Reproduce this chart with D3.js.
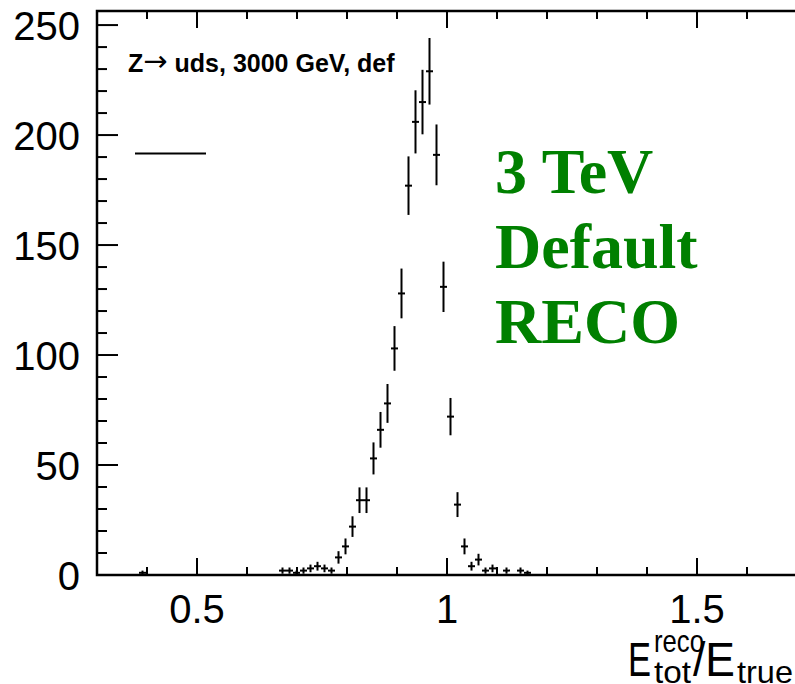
<!DOCTYPE html>
<html>
<head>
<meta charset="utf-8">
<script src="https://cdn.jsdelivr.net/npm/d3@7"></script>
<style>
  html, body { margin: 0; padding: 0; background: #fff; }
  svg { display: block; }
</style>
</head>
<body>
<svg id="chart" width="795" height="684"></svg>
<script>
// Histogram of E_tot^reco / E_true (100 bins, 0.3 – 1.7); only filled bins listed
const binCenters = [0.391, 0.671, 0.685, 0.699, 0.713, 0.727, 0.741, 0.755, 0.769,
  0.783, 0.797, 0.811, 0.825, 0.839, 0.853, 0.867, 0.881, 0.895, 0.909, 0.923,
  0.937, 0.951, 0.965, 0.979, 0.993, 1.007, 1.021, 1.035, 1.049, 1.063, 1.077,
  1.091, 1.119, 1.147, 1.161];
const counts = [1, 2, 2, 1, 2, 3, 4, 3, 2,
  8, 13, 22, 34, 34, 53, 66, 78, 103, 128, 177,
  206, 215, 229, 191, 131, 72, 32, 13, 4, 7, 2,
  3, 2, 2, 1];
const binHalfWidth = 0.007;

const xMajorTicks = [0.5, 1, 1.5];
const xMinorTicks = [0.3, 0.4, 0.6, 0.7, 0.8, 0.9, 1.1, 1.2, 1.3, 1.4, 1.6, 1.7];
const yMajorTicks = [0, 50, 100, 150, 200, 250];
const yMinorTicks = [10, 20, 30, 40, 60, 70, 80, 90, 110, 120, 130, 140,
  160, 170, 180, 190, 210, 220, 230, 240];

const xDomain = [0.3, 1.7];
const yDomain = [0, 256.4];

const frame = { left: 97, right: 797, top: 11, bottom: 575 };

const svg = d3.select("#chart");
const x = d3.scaleLinear().domain(xDomain).range([frame.left, frame.right]);
const y = d3.scaleLinear().domain(yDomain).range([frame.bottom, frame.top]);

const sans = "'Liberation Sans', Arial, Helvetica, sans-serif";

// Data points with Poisson error bars
const pts = svg.append("g").attr("stroke", "#000").attr("stroke-width", 2);
binCenters.forEach((c, i) => {
  const n = counts[i];
  const e = Math.sqrt(n);
  pts.append("line")
    .attr("x1", x(c)).attr("x2", x(c))
    .attr("y1", y(Math.max(0, n - e))).attr("y2", y(n + e));
  pts.append("line")
    .attr("x1", x(c - binHalfWidth)).attr("x2", x(c + binHalfWidth))
    .attr("y1", y(n)).attr("y2", y(n));
});

// Frame
const axes = svg.append("g").attr("stroke", "#000").attr("fill", "none");
axes.append("rect")
  .attr("x", frame.left).attr("y", frame.top)
  .attr("width", frame.right - frame.left).attr("height", frame.bottom - frame.top)
  .attr("stroke-width", 2.5);

// X ticks, bottom and top
const xTick = (v, len) => {
  axes.append("line").attr("x1", x(v)).attr("x2", x(v))
    .attr("y1", frame.bottom).attr("y2", frame.bottom - len).attr("stroke-width", 2);
  axes.append("line").attr("x1", x(v)).attr("x2", x(v))
    .attr("y1", frame.top).attr("y2", frame.top + len).attr("stroke-width", 2);
};
xMajorTicks.forEach(v => xTick(v, 17));
xMinorTicks.forEach(v => xTick(v, 8));

// Y ticks
const yTick = (v, len) => {
  axes.append("line").attr("x1", frame.left).attr("x2", frame.left + len)
    .attr("y1", y(v)).attr("y2", y(v)).attr("stroke-width", 2);
};
yMajorTicks.forEach(v => yTick(v, 21));
yMinorTicks.forEach(v => yTick(v, 10));

// Tick labels
svg.append("g").selectAll("text").data(xMajorTicks).join("text")
  .attr("x", d => x(d)).attr("y", 623)
  .attr("text-anchor", "middle")
  .attr("font-family", sans).attr("font-size", 40)
  .text(d => d3.format("")(d));

svg.append("g").selectAll("text").data(yMajorTicks).join("text")
  .attr("x", 80).attr("y", d => y(d) + 14.5)
  .attr("text-anchor", "end")
  .attr("font-family", sans).attr("font-size", 40)
  .text(d => d);

// Axis title: E_tot^reco / E_true, narrow glyphs
const titleParts = [
  { t: "E",    x: 628, y: 676, size: 48, w: 23 },
  { t: "reco", x: 654, y: 652, size: 32, w: 50 },
  { t: "tot",  x: 654, y: 683, size: 32, w: 37 },
  { t: "/E",   x: 693, y: 676, size: 48, w: 42 },
  { t: "true", x: 737, y: 683, size: 32, w: 56 }
];
svg.append("g").selectAll("text").data(titleParts).join("text")
  .attr("x", d => d.x).attr("y", d => d.y)
  .attr("font-family", sans).attr("font-size", d => d.size)
  .attr("textLength", d => d.w).attr("lengthAdjust", "spacingAndGlyphs")
  .text(d => d.t);

// Sample label
const lab = svg.append("text")
  .attr("font-family", sans).attr("font-size", 25).attr("font-weight", "bold")
  .attr("x", 128).attr("y", 72);
lab.append("tspan").text("Z");
lab.append("tspan").attr("font-weight", "normal")
  .attr("font-family", "'DejaVu Sans', sans-serif").attr("font-size", 29)
  .attr("dy", -1).text("\u2192");
lab.append("tspan").attr("dy", 1).text(" uds, 3000 GeV, def");

// Legend line
svg.append("line")
  .attr("x1", 135).attr("x2", 206).attr("y1", 153.5).attr("y2", 153.5)
  .attr("stroke", "#000").attr("stroke-width", 2);

// Green annotation
const serif = "'Liberation Serif', 'Times New Roman', Times, serif";
["3 TeV", "Default", "RECO"].forEach((t, i) => {
  svg.append("text")
    .attr("x", 495).attr("y", 193 + i * 75)
    .attr("font-family", serif).attr("font-size", 64).attr("font-weight", "bold")
    .attr("fill", "#008000")
    .text(t);
});
</script>
</body>
</html>
